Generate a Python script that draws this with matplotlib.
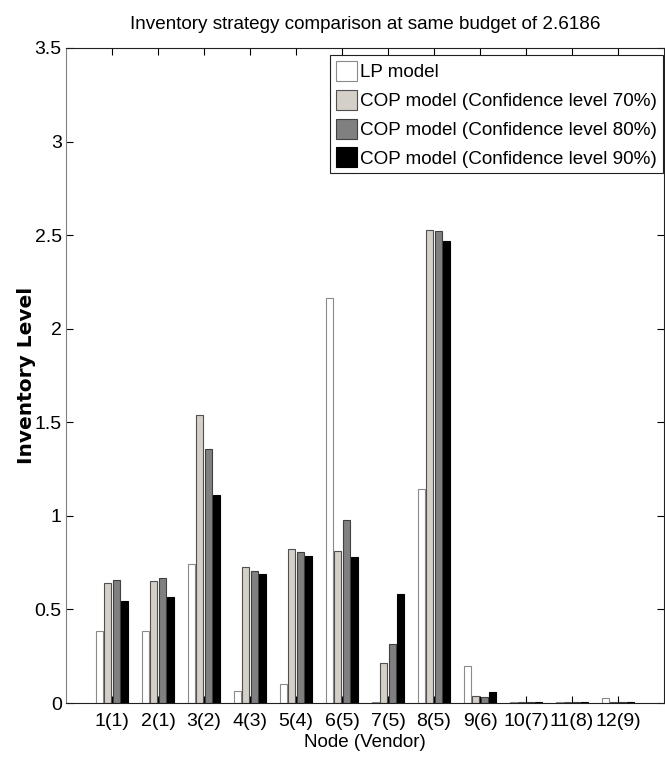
import numpy as np
import matplotlib
matplotlib.use('Agg')
import matplotlib.pyplot as plt

plt.rcParams['font.family'] = ['Liberation Sans', 'DejaVu Sans']

# nodes (vendor in brackets)
nodes = ['1(1)', '2(1)', '3(2)', '4(3)', '5(4)', '6(5)', '7(5)', '8(5)', '9(6)', '10(7)', '11(8)', '12(9)']

# inventory level per node, one list per model
lp_model = [0.383, 0.383, 0.743, 0.062, 0.103, 2.162, 0.004, 1.142, 0.197, 0.003, 0.003, 0.025]
cop_70 = [0.642, 0.652, 1.538, 0.727, 0.824, 0.811, 0.214, 2.527, 0.035, 0.003, 0.003, 0.003]
cop_80 = [0.658, 0.668, 1.356, 0.706, 0.807, 0.979, 0.313, 2.520, 0.031, 0.003, 0.003, 0.003]
cop_90 = [0.543, 0.567, 1.110, 0.690, 0.786, 0.782, 0.581, 2.470, 0.059, 0.003, 0.003, 0.003]

labels = ['LP model',
          'COP model (Confidence level 70%)',
          'COP model (Confidence level 80%)',
          'COP model (Confidence level 90%)']

fig = plt.figure(figsize=(6.65, 7.58), dpi=100)
ax = fig.add_axes([66/665, 55/758, 598/665, 655/758])

x = np.arange(1, len(nodes) + 1)
series = [lp_model, cop_70, cop_80, cop_90]
faces = ['#ffffff', '#d4d0c8', '#808080', '#000000']
edges = ['#8a8a8a', '#505050', '#404040', '#000000']
offs = [-0.27, -0.09, 0.09, 0.27]
w = 0.15

for vals, fc, ec, dx, lab in zip(series, faces, edges, offs, labels):
    ax.bar(x + dx, vals, width=w, color=fc, edgecolor=ec, linewidth=0.8, label=lab)

ax.set_xlim(0, 13)
ax.set_ylim(0, 3.5)
ax.set_xticks(x)
ax.set_xticklabels(nodes)
ax.set_yticks([0, 0.5, 1, 1.5, 2, 2.5, 3, 3.5])
ax.set_yticklabels(['0', '0.5', '1', '1.5', '2', '2.5', '3', '3.5'])

ax.tick_params(axis='both', direction='in', length=5, width=0.8,
               top=True, right=True, labelsize=14)
ax.tick_params(axis='x', pad=7)
ax.tick_params(axis='y', pad=3)

ax.spines['left'].set_color('#808080')
for s in ['top', 'bottom', 'right']:
    ax.spines[s].set_color('#202020')
    ax.spines[s].set_linewidth(0.8)

ax.set_title('Inventory strategy comparison at same budget of 2.6186', fontsize=13.6, pad=14)
ax.set_xlabel('Node (Vendor)', fontsize=13.5, labelpad=3)
ax.set_ylabel('Inventory Level', fontsize=14.5, fontweight='bold',
              family='DejaVu Sans', labelpad=-1)

leg = ax.legend(loc='upper right', bbox_to_anchor=(0.998, 0.989), fontsize=13.6,
                frameon=True, fancybox=False, framealpha=1, edgecolor='#202020',
                handlelength=1.15, handleheight=1.25, handletextpad=0.15,
                labelspacing=0.45, borderpad=0.3, borderaxespad=0)
leg.get_frame().set_linewidth(0.8)

fig.savefig('out.png', dpi=100)
